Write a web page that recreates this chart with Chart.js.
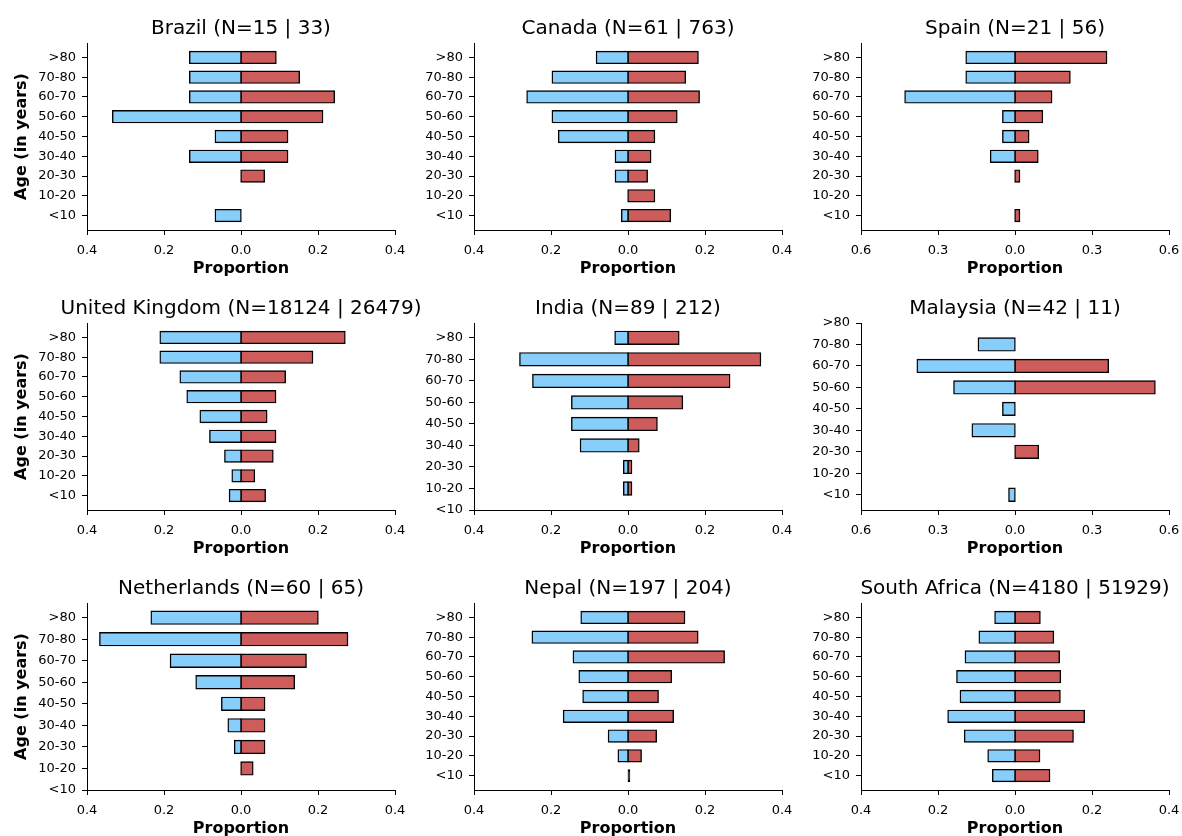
<!DOCTYPE html>
<html>
<head>
<meta charset="utf-8">
<script src="https://cdn.jsdelivr.net/npm/chart.js@4/dist/chart.umd.min.js"></script>
<style>
  html, body { margin: 0; padding: 0; background: #ffffff; overflow: hidden; }
  #wrap { position: relative; width: 1182px; height: 836px; overflow: hidden; background: #fff; }
  #wrap canvas { position: absolute; }
</style>
</head>
<body>
<div id="wrap"></div>
<script>
// ---------------- DATA ----------------
const ageGroups = ['<10', '10-20', '20-30', '30-40', '40-50', '50-60', '60-70', '70-80', '>80'];

const countries = ['Brazil', 'Canada', 'Spain', 'United Kingdom', 'India', 'Malaysia', 'Netherlands', 'Nepal', 'South Africa'];
const nBlue = [15, 61, 21, 18124, 89, 42, 60, 197, 4180];
const nRed  = [33, 763, 56, 26479, 212, 11, 65, 204, 51929];

// proportions per age group (<10 ... >80); null = no bar
const brazilBlue      = [0.0667, null, null, 0.1333, 0.0667, 0.3333, 0.1333, 0.1333, 0.1333];
const brazilRed       = [null, null, 0.0606, 0.1212, 0.1212, 0.2121, 0.2424, 0.1515, 0.0909];
const canadaBlue      = [0.0164, null, 0.0328, 0.0328, 0.1803, 0.1967, 0.2623, 0.1967, 0.0820];
const canadaRed       = [0.110, 0.069, 0.050, 0.059, 0.069, 0.127, 0.185, 0.149, 0.182];
const spainBlue       = [null, null, null, 0.0952, 0.0476, 0.0476, 0.4286, 0.1905, 0.1905];
const spainRed        = [0.0179, null, 0.0179, 0.0893, 0.0536, 0.1071, 0.1429, 0.2143, 0.3571];
const ukBlue          = [0.030, 0.023, 0.042, 0.081, 0.106, 0.140, 0.158, 0.210, 0.210];
const ukRed           = [0.063, 0.035, 0.083, 0.090, 0.067, 0.090, 0.115, 0.186, 0.270];
const indiaBlue       = [null, 0.0112, 0.0112, 0.1236, 0.1461, 0.1461, 0.2472, 0.2809, 0.0337];
const indiaRed        = [null, 0.0094, 0.0094, 0.0283, 0.0755, 0.1415, 0.2642, 0.3443, 0.1321];
const malaysiaBlue    = [0.0238, null, null, 0.1667, 0.0476, 0.2381, 0.3810, 0.1429, null];
const malaysiaRed     = [null, null, 0.0909, null, null, 0.5455, 0.3636, null, null];
const netherlandsBlue = [null, null, 0.0167, 0.0333, 0.0500, 0.1167, 0.1833, 0.3667, 0.2333];
const netherlandsRed  = [null, 0.0308, 0.0615, 0.0615, 0.0615, 0.1385, 0.1692, 0.2769, 0.2000];
const nepalBlue       = [null, 0.0254, 0.0508, 0.1675, 0.1168, 0.1269, 0.1421, 0.2487, 0.1218];
const nepalRed        = [0.0049, 0.0343, 0.0735, 0.1176, 0.0784, 0.1127, 0.2500, 0.1814, 0.1471];
const southAfricaBlue = [0.058, 0.070, 0.131, 0.174, 0.142, 0.151, 0.129, 0.093, 0.052];
const southAfricaRed  = [0.090, 0.064, 0.151, 0.180, 0.117, 0.118, 0.115, 0.100, 0.065];

const xTicks04 = [-0.4, -0.2, 0, 0.2, 0.4];
const xTicks06 = [-0.6, -0.3, 0, 0.3, 0.6];

const blueSeries = [brazilBlue, canadaBlue, spainBlue, ukBlue, indiaBlue, malaysiaBlue, netherlandsBlue, nepalBlue, southAfricaBlue];
const redSeries  = [brazilRed, canadaRed, spainRed, ukRed, indiaRed, malaysiaRed, netherlandsRed, nepalRed, southAfricaRed];
const panelTicks = [xTicks04, xTicks04, xTicks06, xTicks04, xTicks04, xTicks06, xTicks04, xTicks04, xTicks04];

// ---------------- LAYOUT / STYLE ----------------
const FONT = "'DejaVu Sans', sans-serif";
const BLUE = '#87CEFA';
const RED = '#CD5C5C';
const EDGE = '#000000';
const BW = 1.4;
const colLeft = [87, 474, 861];
const rowTop = [43, 323, 603];
const PLOT_W = 308, PLOT_H = 187;
const YAX_W = 87, TITLE_H = 33, XAX_H = 48;
// y-limits per panel (axis extents, in category units)
const yLimits = [
  [-0.73, 8.73], [-0.73, 8.73], [-0.73, 8.73],
  [-0.73, 8.73], [0, 8.69], [-0.71, 8],
  [0, 8.68], [-0.73, 8.73], [-0.73, 8.73]
];

Chart.defaults.color = '#000';
Chart.defaults.font.family = FONT;

const wrap = document.getElementById('wrap');

// edge drawn centred on the bar outline (like a stroked rectangle); very thin bars become all edge
const barStyle = {
  borderColor: EDGE,
  borderWidth: BW,
  borderSkipped: false,
  inflateAmount: ctx => {
    const r = ctx.raw && ctx.raw.x;
    return Array.isArray(r) && Math.abs(r[1] - r[0]) < 0.006 ? 0.4 : BW / 2;
  },
  barPercentage: 0.6,
  categoryPercentage: 1
};

countries.forEach((country, p) => {
  const col = p % 3, row = Math.floor(p / 3);
  const canvas = document.createElement('canvas');
  const cw = YAX_W + PLOT_W + YAX_W, ch = TITLE_H + PLOT_H + XAX_H;
  canvas.width = cw; canvas.height = ch;
  canvas.style.width = cw + 'px'; canvas.style.height = ch + 'px';
  canvas.style.left = (colLeft[col] - YAX_W) + 'px';
  canvas.style.top = (rowTop[row] - TITLE_H) + 'px';
  wrap.appendChild(canvas);

  const blue = blueSeries[p], red = redSeries[p];
  const ticks = panelTicks[p];
  const lim = ticks[ticks.length - 1];

  new Chart(canvas, {
    type: 'bar',
    data: {
      datasets: [
        Object.assign({
          label: 'blue',
          data: ageGroups.map((a, i) => ({ y: i, x: blue[i] == null ? null : [-blue[i], 0] })),
          backgroundColor: BLUE
        }, barStyle),
        Object.assign({
          label: 'red',
          data: ageGroups.map((a, i) => ({ y: i, x: red[i] == null ? null : [0, red[i]] })),
          backgroundColor: ctx => {
            const r = ctx.raw && ctx.raw.x;
            return Array.isArray(r) && Math.abs(r[1] - r[0]) < 0.006 ? EDGE : RED;
          }
        }, barStyle)
      ]
    },
    options: {
      indexAxis: 'y',
      responsive: false,
      animation: false,
      devicePixelRatio: 1,
      layout: { padding: 0 },
      plugins: {
        legend: { display: false },
        tooltip: { enabled: false },
        title: {
          display: true,
          text: `${country} (N=${nBlue[p]} | ${nRed[p]})`,
          color: '#000',
          font: { family: FONT, size: 20, weight: 'normal', lineHeight: 1.2 },
          padding: { top: 7, bottom: 2 }
        }
      },
      scales: {
        x: {
          type: 'linear',
          position: 'bottom',
          stacked: false,
          offset: false,
          min: -lim, max: lim,
          // the centre tick is placed a hair off zero so bars are not shifted by half a grid line
          afterBuildTicks: s => { s.ticks = ticks.map(v => ({ value: v === 0 ? 1e-12 : v })); },
          afterFit: s => { s.height = XAX_H; },
          ticks: {
            font: { family: FONT, size: 13 },
            color: '#000',
            padding: 8,
            maxRotation: 0,
            autoSkip: false,
            callback: v => Math.abs(v).toFixed(1)
          },
          grid: { offset: false, drawOnChartArea: false, drawTicks: true, tickLength: 5, tickColor: '#000', lineWidth: 1 },
          border: { display: true, color: '#000', width: 1 },
          title: {
            display: true,
            text: 'Proportion',
            color: '#000',
            font: { family: FONT, size: 16, weight: 'bold', lineHeight: 1.2 },
            padding: { top: 0, bottom: 0 }
          }
        },
        y: {
          type: 'linear',
          position: 'left',
          stacked: true,
          offset: false,
          min: yLimits[p][0], max: yLimits[p][1],
          afterBuildTicks: s => { s.ticks = ageGroups.map((a, i) => ({ value: i })); },
          afterFit: s => { s.width = YAX_W; },
          ticks: {
            font: { family: FONT, size: 13 },
            color: '#000',
            padding: 6,
            autoSkip: false,
            callback: v => ageGroups[v]
          },
          grid: { offset: false, drawOnChartArea: false, drawTicks: true, tickLength: 5, tickColor: '#000', lineWidth: 1 },
          border: { display: true, color: '#000', width: 1 },
          title: {
            display: col === 0,
            text: 'Age (in years)',
            color: '#000',
            font: { family: FONT, size: 16, weight: 'bold', lineHeight: 1.2 },
            padding: { top: 12, bottom: 0 }
          }
        },
        yR: {
          type: 'linear',
          position: 'right',
          display: true,
          afterFit: s => { s.width = YAX_W; },
          ticks: { display: false },
          grid: { display: false, drawTicks: false },
          border: { display: false }
        }
      }
    }
  });
});
</script>
</body>
</html>
